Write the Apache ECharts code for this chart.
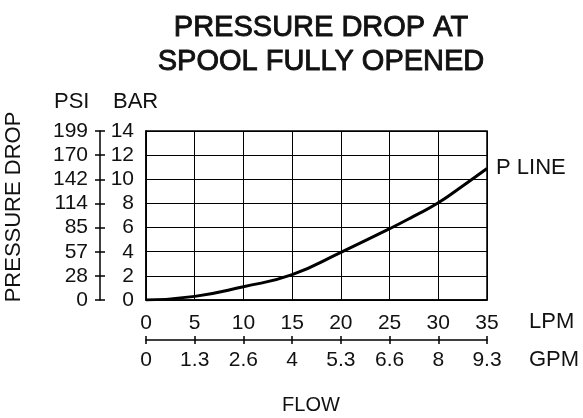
<!DOCTYPE html>
<html>
<head>
<meta charset="utf-8">
<script src="https://cdn.jsdelivr.net/npm/echarts@6/dist/echarts.min.js"></script>
<style>
html,body{margin:0;padding:0;background:#fff;}
#chart{width:583px;height:418px;}
</style>
</head>
<body>
<div id="chart"></div>
<script>
// Data
var flowLpm = [0, 5, 10, 15, 20, 25, 27.5, 30, 32.5, 35];
var pressureBar = [0, 0.3, 1.1, 2.1, 3.95, 5.9, 6.95, 8.05, 9.45, 10.9];
var psiLabels = ['0', '28', '57', '85', '114', '142', '170', '199'];
var gpmLabels = ['0', '1.3', '2.6', '4', '5.3', '6.6', '8', '9.3'];
var seriesName = 'P LINE';
var titleText = 'PRESSURE DROP AT\nSPOOL FULLY OPENED';

var FONT = "'Liberation Sans', Arial, sans-serif";
var chart = echarts.init(document.getElementById('chart'), null, {renderer: 'canvas'});

var pts = flowLpm.map(function (x, i) { return [x, pressureBar[i]]; });

var baseY = {type: 'value', min: 0, max: 14, interval: 2, position: 'left'};
var baseX = {type: 'value', min: 0, max: 35, interval: 5, position: 'bottom'};

var option = {
  backgroundColor: '#fff',
  animation: false,
  title: {
    text: titleText,
    left: 316,
    top: 6,
    textAlign: 'center',
    textStyle: {fontFamily: FONT, fontSize: 29, fontWeight: 'normal', color: '#111', lineHeight: 34,
      textBorderColor: '#111', textBorderWidth: 0.9}
  },
  grid: {left: 146, top: 131, right: 96, bottom: 118, show: true, borderColor: '#000', borderWidth: 1.5, backgroundColor: 'transparent'},
  xAxis: [
    Object.assign({}, baseX, {
      axisLine: {show: true, onZero: false, lineStyle: {color: '#000', width: 1.5}},
      axisTick: {show: false},
      splitLine: {show: true, lineStyle: {color: '#000', width: 1}},
      axisLabel: {fontFamily: FONT, fontSize: 21, color: '#111', margin: 13}
    }),
    Object.assign({}, baseX, {
      offset: 40,
      axisLine: {show: true, onZero: false, lineStyle: {color: '#000', width: 1.5}},
      axisTick: {show: true, length: 4, lineStyle: {color: '#000', width: 1.5}},
      splitLine: {show: false},
      axisLabel: {fontFamily: FONT, fontSize: 21, color: '#111', margin: 10,
        formatter: function (v) { return gpmLabels[Math.round(v / 5)]; }}
    }),
    Object.assign({}, baseX, {
      offset: 40,
      axisLine: {show: false, onZero: false},
      axisTick: {show: true, inside: true, length: 4, lineStyle: {color: '#000', width: 1.5}},
      splitLine: {show: false},
      axisLabel: {show: false}
    })
  ],
  yAxis: [
    Object.assign({}, baseY, {
      axisLine: {show: true, onZero: false, lineStyle: {color: '#000', width: 1.5}},
      axisTick: {show: false},
      splitLine: {show: true, lineStyle: {color: '#000', width: 1}},
      axisLabel: {fontFamily: FONT, fontSize: 21, color: '#111', margin: 12}
    }),
    Object.assign({}, baseY, {
      offset: 46,
      axisLine: {show: true, onZero: false, lineStyle: {color: '#000', width: 1.5}},
      axisTick: {show: true, length: 5, lineStyle: {color: '#000', width: 1.5}},
      splitLine: {show: false},
      axisLabel: {fontFamily: FONT, fontSize: 21, color: '#111', margin: 12,
        formatter: function (v) { return psiLabels[Math.round(v / 2)]; }}
    }),
    Object.assign({}, baseY, {
      offset: 46,
      axisLine: {show: false, onZero: false},
      axisTick: {show: true, inside: true, length: 5, lineStyle: {color: '#000', width: 1.5}},
      splitLine: {show: false},
      axisLabel: {show: false}
    })
  ],
  graphic: [
    {type: 'text', x: 54, y: 102, style: {text: 'PSI', font: '22px ' + FONT, fill: '#111', align: 'left', verticalAlign: 'middle'}},
    {type: 'text', x: 113, y: 102, style: {text: 'BAR', font: '22px ' + FONT, fill: '#111', align: 'left', verticalAlign: 'middle'}},
    {type: 'text', x: 529, y: 322, style: {text: 'LPM', font: '22px ' + FONT, fill: '#111', align: 'left', verticalAlign: 'middle'}},
    {type: 'text', x: 529, y: 360, style: {text: 'GPM', font: '22px ' + FONT, fill: '#111', align: 'left', verticalAlign: 'middle'}},
    {type: 'text', x: 311, y: 405, style: {text: 'FLOW', font: '20px ' + FONT, fill: '#111', align: 'center', verticalAlign: 'middle'}},
    {type: 'text', x: 14, y: 207, rotation: Math.PI / 2, style: {text: 'PRESSURE DROP', font: '22px ' + FONT, fill: '#111', align: 'center', verticalAlign: 'middle'}}
  ],
  series: [{
    name: seriesName,
    type: 'line',
    xAxisIndex: 0,
    yAxisIndex: 0,
    data: pts,
    smooth: 0.5,
    symbol: 'none',
    lineStyle: {color: '#000', width: 3},
    endLabel: {show: true, formatter: seriesName, fontFamily: FONT, fontSize: 22, color: '#111', distance: 9}
  }]
};
chart.setOption(option);
</script>
</body>
</html>
